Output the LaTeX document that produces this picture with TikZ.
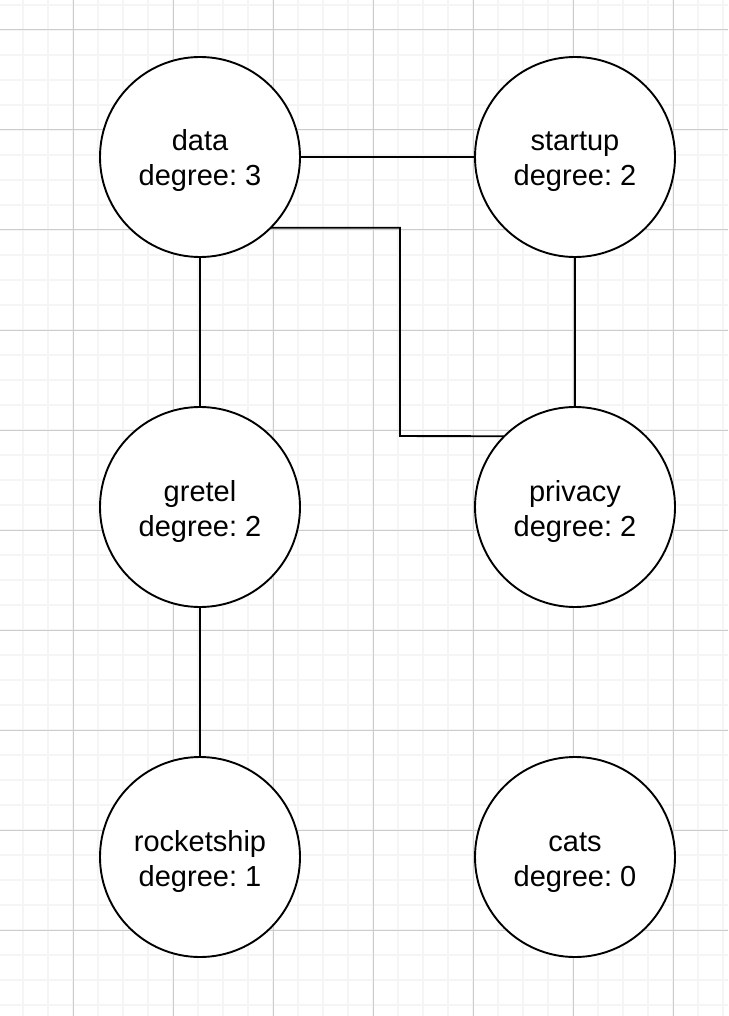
\documentclass[tikz,border=0pt]{standalone}
\usepackage{tikz}
\usepackage{xcolor}
\usepackage{fontspec}
\setmainfont{Liberation Sans}
\frenchspacing

\begin{document}
\begin{tikzpicture}[x=1pt, y=-1pt,
  vertex/.style={draw, circle, line width=1.9pt, fill=white, minimum size=200pt,
    inner sep=0pt, outer sep=0pt, align=center, text height=64pt, text depth=6pt,
    font=\fontsize{29}{35}\selectfont},
  edge/.style={line width=1.9pt}]
\useasboundingbox (0,0) rectangle (728,1016);

% Grid (minor lines)
\foreach \i in {0,...,30}
  \draw[black!4, line width=2pt] ({-1.67+25*\i},0) -- ({-1.67+25*\i},1016);
\foreach \j in {0,...,40}
  \draw[black!4, line width=2pt] (0,{5+25*\j}) -- (728,{5+25*\j});

% Grid (major lines)
\foreach \i in {0,...,6}
  \draw[black!20, line width=1pt] ({73.33+100*\i},0) -- ({73.33+100*\i},1016);
\foreach \j in {0,...,9}
  \draw[black!20, line width=1pt] (0,{30+100*\j}) -- (728,{30+100*\j});

% Nodes
\node[vertex] (data) at (200,157) {data\\degree: 3};
\node[vertex] (startup) at (575,157) {startup\\degree: 2};
\node[vertex] (gretel) at (200,507) {gretel\\degree: 2};
\node[vertex] (privacy) at (575,507) {privacy\\degree: 2};
\node[vertex] (rocketship) at (200,857) {rocketship\\degree: 1};
\node[vertex] (cats) at (575,857) {cats\\degree: 0};

% Edges
\coordinate (bend) at (400,436);
\draw[edge] (data) -- (startup);
\draw[edge] (data) -- (gretel);
\draw[edge] (startup) -- (privacy);
\draw[edge] (gretel) -- (rocketship);
\draw[edge] (data.south east) -| (bend) -- (privacy.north west);
\end{tikzpicture}
\end{document}
